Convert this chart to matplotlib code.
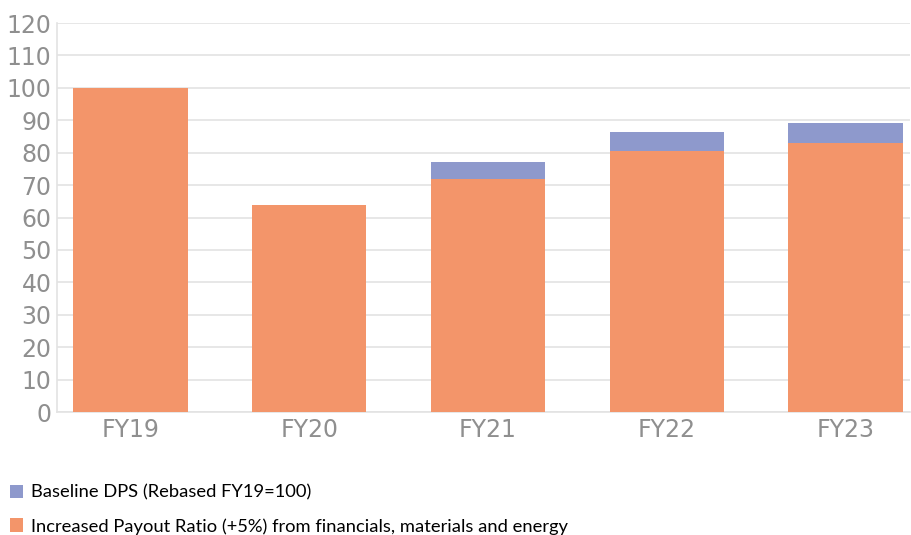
import matplotlib.pyplot as plt
from matplotlib.patches import Patch

# Rebased dividend per share, FY19 = 100
years = ["FY19", "FY20", "FY21", "FY22", "FY23"]
payout_uplift = [100, 64, 72, 80.5, 83]      # lower (orange) segment
baseline_dps = [0, 0, 5.2, 6.0, 6.2]          # upper (purple) segment
y_ticks = list(range(0, 121, 10))

orange = "#F3956A"
purple = "#8E99CC"
grid_c = "#E3E3E3"
tick_c = "#8F8F8F"

fig = plt.figure(figsize=(9.11, 5.35), dpi=100)
ax = fig.add_axes([57 / 911, 1 - 412 / 535, (910 - 57) / 911, (412 - 23) / 535])

x = list(range(len(years)))
ax.bar(x, payout_uplift, width=0.64, color=orange, zorder=3)
ax.bar(x, baseline_dps, width=0.64, bottom=payout_uplift, color=purple, zorder=3)

ax.set_xlim(-0.41, 4.36)
ax.set_ylim(0, 120)
ax.set_yticks(y_ticks)
ax.set_xticks(x)
ax.set_xticklabels(years)
ax.yaxis.grid(True, color=grid_c, linewidth=1.2, zorder=0)
ax.tick_params(axis="both", length=0, labelsize=17, colors=tick_c)
ax.tick_params(axis="x", pad=4)
ax.tick_params(axis="y", pad=4)

for side in ("top", "right"):
    ax.spines[side].set_visible(False)
for side in ("left", "bottom"):
    ax.spines[side].set_color(grid_c)
    ax.spines[side].set_linewidth(1.2)

handles = [
    Patch(facecolor=purple, edgecolor="none", label="Baseline DPS (Rebased FY19=100)"),
    Patch(facecolor=orange, edgecolor="none",
          label="Increased Payout Ratio (+5%) from financials, materials and energy"),
]
fig.legend(handles=handles, loc="upper left", bbox_to_anchor=(4 / 911, 1 - 479 / 535),
           frameon=False, prop={"family": "Lato", "size": 13.2},
           handlelength=0.75, handleheight=0.75, handletextpad=0.45,
           labelspacing=0.95, borderaxespad=0, borderpad=0.3)

fig.savefig("out.png", dpi=100)
